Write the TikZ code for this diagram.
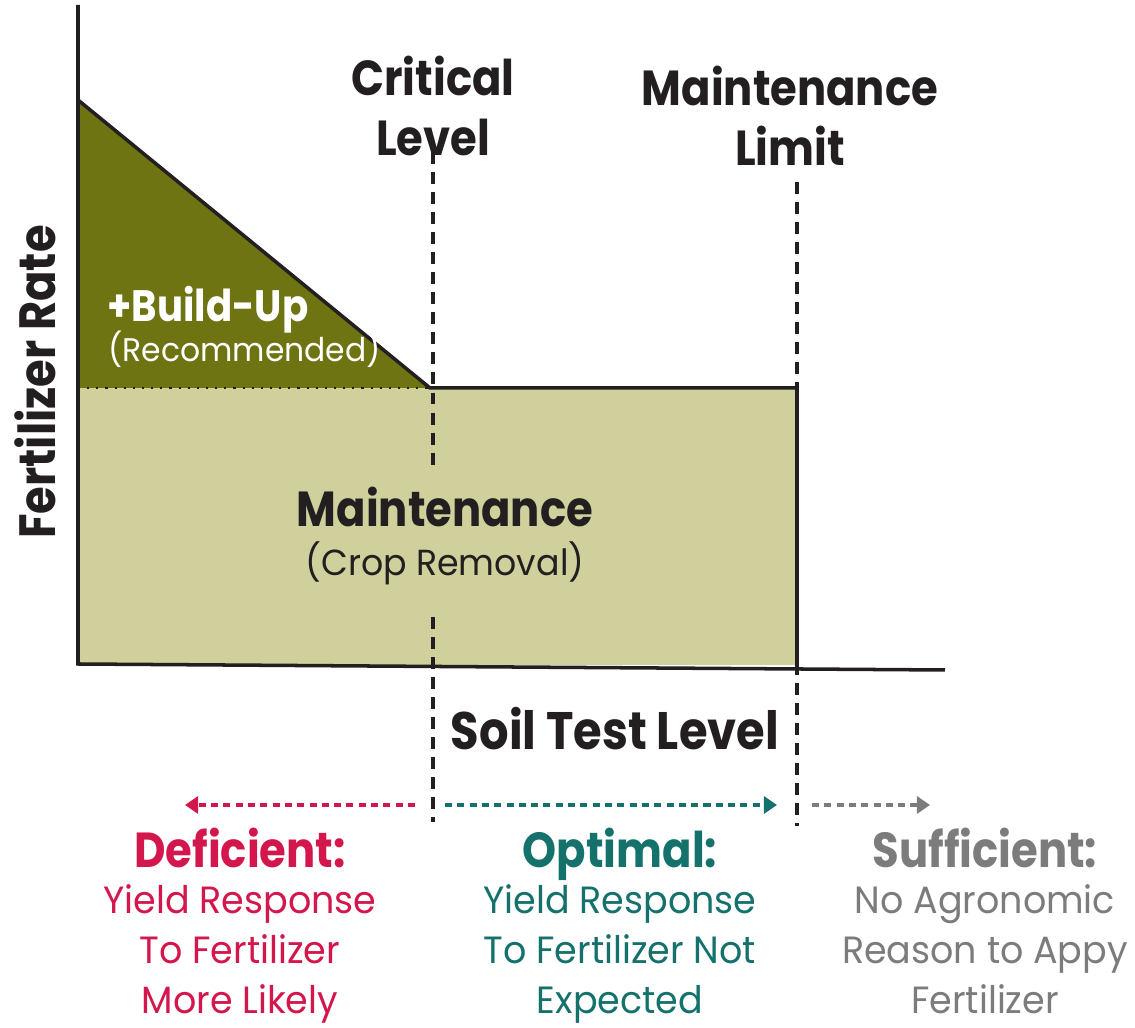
\documentclass[tikz,border=0pt]{standalone}
\usepackage{fontspec}
\setmainfont{Poppins}[FakeStretch=0.96]
\newfontfamily\headfont{Poppins}[FakeStretch=0.88]
\usetikzlibrary{arrows.meta}
\definecolor{BuildGreen}{HTML}{6E7411}
\definecolor{MaintGreen}{HTML}{CFD09B}
\definecolor{DefRed}{HTML}{D3164B}
\definecolor{OptTeal}{HTML}{15716C}
\definecolor{SuffGray}{HTML}{7C7C7C}
\definecolor{InkBlack}{HTML}{231F20}

\begin{document}
\begin{tikzpicture}[x=0.01cm,y=-0.01cm,
    heading/.style={font=\headfont\bfseries\fontsize{14}{17}\selectfont, text=InkBlack, align=center},
    subtext/.style={font=\fontsize{11}{14.6}\selectfont, align=center},
    zonenote/.style={subtext, inner sep=0pt, font=\fontsize{10.8}{14.2}\selectfont},
    levelline/.style={InkBlack, line width=0.95pt, dash pattern=on 3.4pt off 2.3pt},
    zonearrow/.style={line width=1.1pt, dash pattern=on 2pt off 1.5pt, -{Triangle[length=3.7pt,width=4.8pt]}}]
        \useasboundingbox (0,0) rectangle (1135,1028);

        \fill[MaintGreen] (78,388) rectangle (797,665);
        \fill[BuildGreen] (78,100) -- (430,388) -- (78,388) -- cycle;

        \draw[InkBlack, line width=0.6pt, dotted] (78,388) -- (430,388);
        \draw[InkBlack, line width=1pt] (78,100) -- (430,388) -- (797,388) -- (797,665);

        \draw[InkBlack, line width=1pt] (78,5) -- (78,664) -- (945,670);

        % critical level, broken where the maintenance label sits
        \coordinate (crit top) at (433,152);
        \coordinate (crit gap top) at (433,470);
        \coordinate (crit gap bot) at (433,617);
        \coordinate (crit bot) at (433,822);
        \coordinate (lim top) at (797,182);
        \coordinate (lim bot) at (797,826);
        \draw[levelline] (crit top) -- (crit gap top);
        \draw[levelline] (crit gap bot) -- (crit bot);
        \draw[levelline] (lim top) -- (lim bot);

        \node[heading] (critical) at (433,106) {Critical\\Level};
        \node[heading] (limit) at (790,116) {Maintenance\\Limit};
        \node[heading, rotate=90, font=\headfont\bfseries\fontsize{14.5}{17}\selectfont] (rate) at (35,382) {Fertilizer Rate};
        \node[heading, text=white, anchor=base west, font=\headfont\bfseries\fontsize{12.5}{15}\selectfont] (buildup) at (95,322) {+Build-Up};
        \node[subtext, text=white, anchor=base west, font=\fontsize{9.3}{11}\selectfont] (recom) at (96,362) {(Recommended)};
        \node[heading, anchor=base] (maint) at (445,527) {Maintenance};
        \node[subtext, text=InkBlack, anchor=base, font=\fontsize{10.3}{12}\selectfont] (removal) at (445,576) {(Crop Removal)};
        \node[heading, anchor=base, font=\headfont\bfseries\fontsize{15}{17}\selectfont] (soil) at (615,750) {Soil Test Level};

        \coordinate (def start) at (415,805);
        \coordinate (def end) at (185,805);
        \coordinate (opt start) at (445,805);
        \coordinate (opt end) at (777,805);
        \coordinate (suf start) at (812,805);
        \coordinate (suf end) at (930,805);
        \draw[zonearrow, DefRed] (def start) -- (def end);
        \draw[zonearrow, OptTeal] (opt start) -- (opt end);
        \draw[zonearrow, SuffGray] (suf start) -- (suf end);

        \node[heading, text=DefRed, anchor=base] (deficient) at (240,868) {Deficient:};
        \node[zonenote, text=DefRed, anchor=north] (deficient note) at (240,884) {Yield Response\\To Fertilizer\\More Likely};
        \node[heading, text=OptTeal, anchor=base] (optimal) at (620,868) {Optimal:};
        \node[zonenote, text=OptTeal, anchor=north] (optimal note) at (620,884) {Yield Response\\To Fertilizer Not\\Expected};
        \node[heading, text=SuffGray, anchor=base] (sufficient) at (985,868) {Sufficient:};
        \node[zonenote, text=SuffGray, anchor=north] (sufficient note) at (985,884) {No Agronomic\\Reason to Appy\\Fertilizer};
\end{tikzpicture}
\end{document}
